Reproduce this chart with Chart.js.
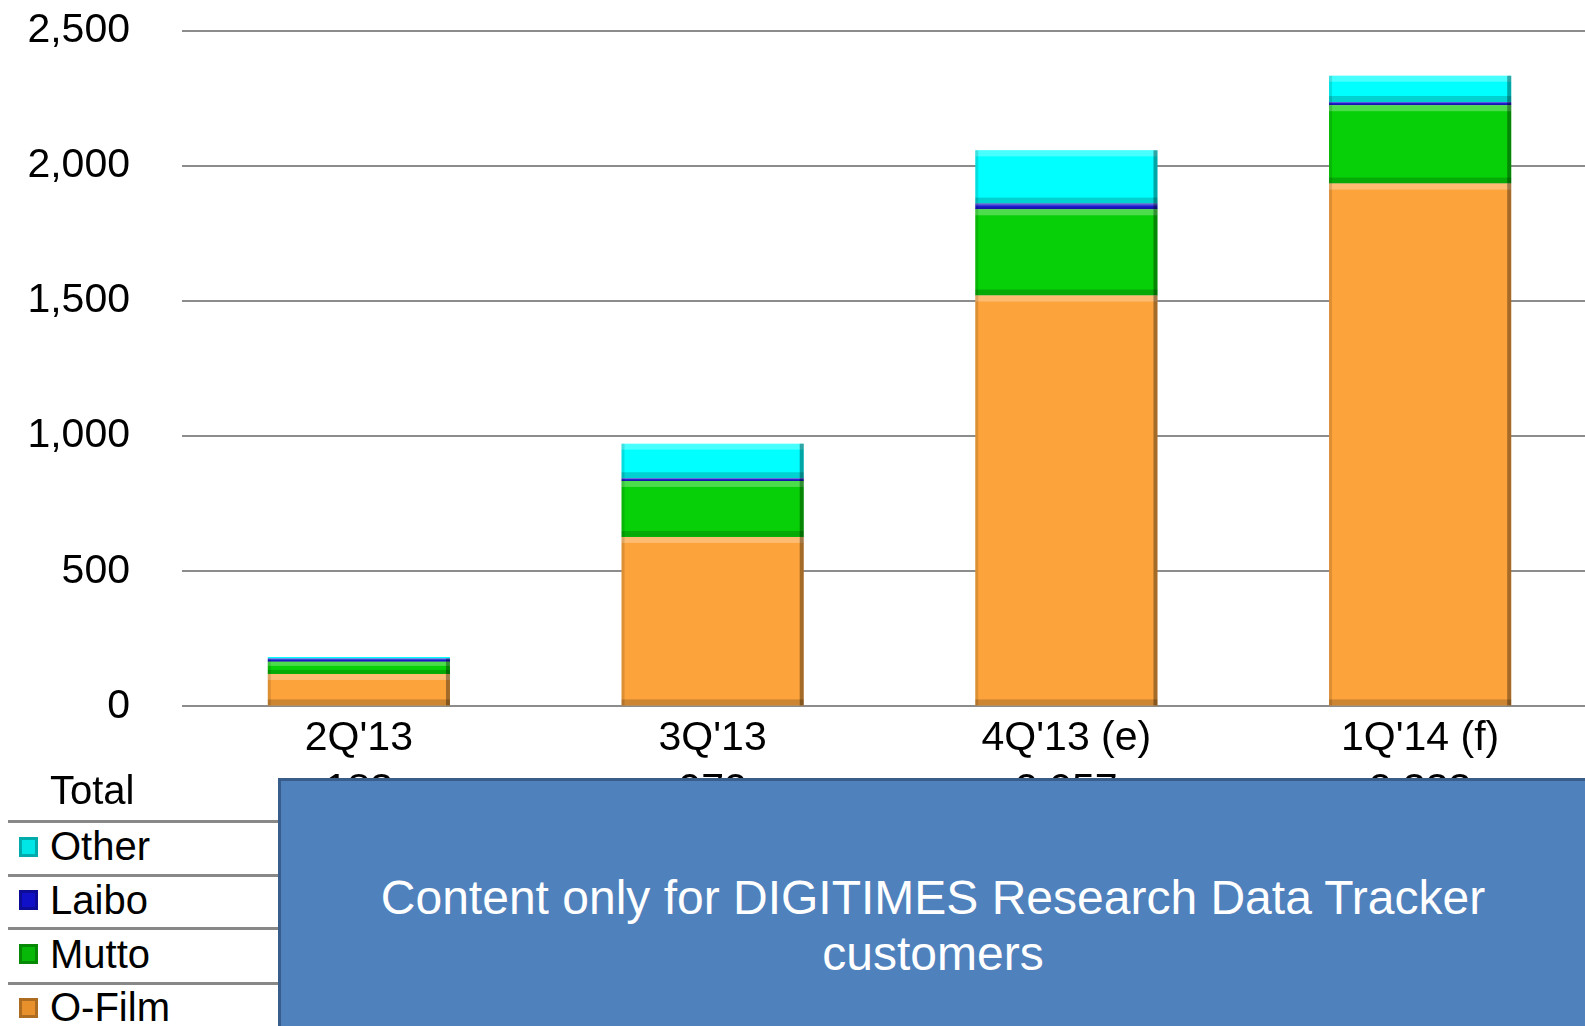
<!DOCTYPE html>
<html>
<head>
<meta charset="utf-8">
<script src="https://cdn.jsdelivr.net/npm/chart.js@4/dist/chart.umd.min.js"></script>
<style>
  html, body { margin: 0; padding: 0; background: #fff; overflow: hidden; width: 1585px; height: 1026px; }
  #wrap { position: absolute; left: 0; top: -46px; width: 1597px; height: 829px; }
  .row { position: absolute; left: 8px; width: 270px; border-top: 3px solid #888; }
  .lbl { position: absolute; left: 50px; font: 40px "Liberation Sans", Arial, sans-serif; color: #000; line-height: 40px; }
  .mk { position: absolute; left: 19px; width: 19px; height: 20px; box-sizing: border-box; border: 3px solid rgba(0,0,0,0.25); }
  #cover { position: absolute; left: 278px; top: 778px; width: 1310px; height: 260px; background: #4f81bd; border: 3px solid #385d8a; box-sizing: border-box; }
  #cover div { position: absolute; left: 0; right: 0; top: 89px; text-align: center; color: #fff; font: 48px "Liberation Sans", Arial, sans-serif; line-height: 56px; }
</style>
</head>
<body>
<div id="wrap"><canvas id="grafico" width="1597" height="829"></canvas></div>

<div class="lbl" style="top:770px">Total</div>
<div class="row" style="top:820px"></div>
<div class="mk" style="top:837px;background:#00e5e5"></div>
<div class="lbl" style="top:826px">Other</div>
<div class="row" style="top:874px"></div>
<div class="mk" style="top:890px;background:#1010c8"></div>
<div class="lbl" style="top:880px">Laibo</div>
<div class="row" style="top:927px"></div>
<div class="mk" style="top:944px;background:#08b808"></div>
<div class="lbl" style="top:934px">Mutto</div>
<div class="row" style="top:982px"></div>
<div class="mk" style="top:998px;background:#e8902c"></div>
<div class="lbl" style="top:987px">O-Film</div>

<div id="cover"><div>Content only for DIGITIMES Research Data Tracker<br>customers</div></div>

<script>
const trimestres = ["2Q'13", "3Q'13", "4Q'13 (e)", "1Q'14 (f)"];
const oFilm = [120, 627, 1520, 1934];
const mutto = [45, 207, 319, 290];
const laibo = [12, 10, 21, 12];
const other = [6, 128, 197, 97];
const yTicks = [0, 500, 1000, 1500, 2000, 2500];

const fuente = '"Liberation Sans", Arial, sans-serif';

// totales debajo de las categorias (quedan tapados por el recuadro)
const totalesPlugin = {
    id: 'totales',
    afterDraw(chart) {
        const ctx = chart.ctx;
        const x = chart.scales.x;
        ctx.save();
        ctx.font = '41px ' + fuente;
        ctx.fillStyle = '#000';
        ctx.textAlign = 'center';
        ctx.textBaseline = 'middle';
        trimestres.forEach((t, i) => {
            const tot = oFilm[i] + mutto[i] + laibo[i] + other[i];
            ctx.fillText(tot.toLocaleString('en-US'), x.getPixelForValue(i), chart.chartArea.bottom + 84);
        });
        ctx.restore();
    }
};

// efecto de bisel en las barras
const biselPlugin = {
    id: 'bisel',
    afterDatasetsDraw(chart) {
        const ctx = chart.ctx;
        ctx.save();
        chart.data.datasets.forEach((ds, di) => {
            chart.getDatasetMeta(di).data.forEach(bar => {
                const l = bar.x - bar.width / 2, r = bar.x + bar.width / 2;
                const t = Math.min(bar.y, bar.base), b = Math.max(bar.y, bar.base);
                const h = b - t;
                if (h < 2) return;
                const e = Math.min(6, h / 3);
                ctx.fillStyle = 'rgba(255,255,255,0.28)';
                ctx.fillRect(l, t, r - l, e);
                ctx.fillStyle = 'rgba(0,0,0,0.18)';
                ctx.fillRect(l, b - e, r - l, e);
                ctx.fillStyle = 'rgba(0,0,0,0.35)';
                ctx.fillRect(r - 4, t, 4, h);
                ctx.fillStyle = 'rgba(0,0,0,0.12)';
                ctx.fillRect(l, t, 3, h);
            });
        });
        ctx.restore();
    }
};

new Chart(document.getElementById('grafico'), {
    type: 'bar',
    data: {
        labels: trimestres,
        datasets: [
            { label: 'O-Film', data: oFilm, backgroundColor: '#fca33c' },
            { label: 'Mutto', data: mutto, backgroundColor: '#08d008' },
            { label: 'Laibo', data: laibo, backgroundColor: '#1a1ad0' },
            { label: 'Other', data: other, backgroundColor: '#00ffff' }
        ]
    },
    options: {
        responsive: false,
        animation: false,
        events: [],
        layout: { padding: { top: 30, right: 0, left: 0, bottom: 0 } },
        datasets: { bar: { barPercentage: 0.515, categoryPercentage: 1, borderWidth: 0 } },
        plugins: { legend: { display: false }, tooltip: { enabled: false } },
        scales: {
            x: {
                stacked: true,
                afterFit(s) { s.height = 75; },
                grid: { display: false, drawTicks: false },
                border: { display: false },
                ticks: { color: '#000', padding: 8, font: { size: 41, family: fuente } }
            },
            y: {
                stacked: true,
                min: 0,
                max: 2500,
                afterFit(s) { s.width = 182; },
                afterBuildTicks(s) { s.ticks = yTicks.map(v => ({ value: v })); },
                grid: { color: '#8c8c8c', lineWidth: 2, drawTicks: false },
                border: { display: false },
                ticks: {
                    color: '#000', padding: 52,
                    font: { size: 41, family: fuente },
                    callback: v => v.toLocaleString('en-US')
                }
            }
        }
    },
    plugins: [totalesPlugin, biselPlugin]
});
</script>
</body>
</html>
